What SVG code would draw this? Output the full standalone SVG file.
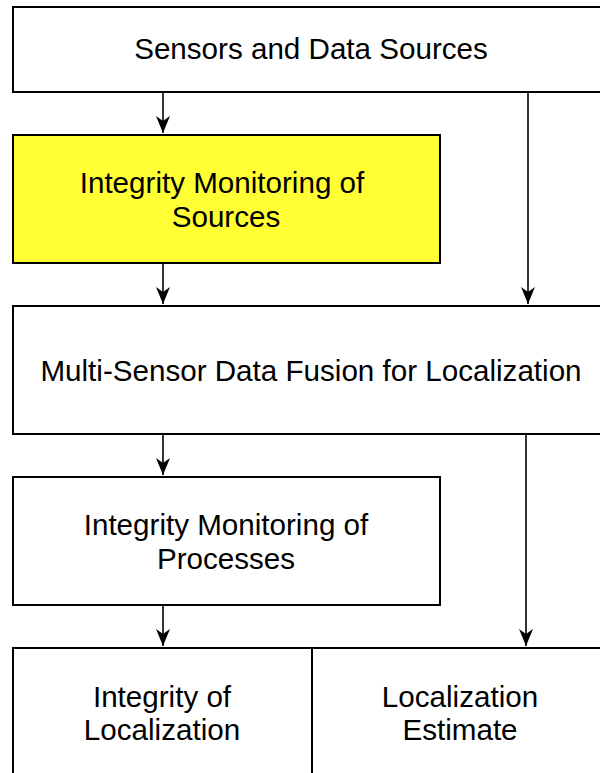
<svg xmlns="http://www.w3.org/2000/svg" width="600" height="773" viewBox="0 0 600 773">
  <style>
    .box { fill: #ffffff; stroke: #000000; stroke-width: 2; }
    .yellow { fill: #ffff33; }
    .lbl { font-family: "Liberation Sans", Arial, sans-serif; font-size: 29.6px; fill: #000000; text-anchor: middle; }
    .conn { stroke: #000000; stroke-width: 1.6; fill: none; }
  </style>
  <defs>
    <marker id="arr" markerUnits="userSpaceOnUse" viewBox="-18 -8 19 16" refX="0" refY="0" markerWidth="19" markerHeight="16" orient="auto">
      <path d="M0,0 L-17,-7 L-12,0 L-17,7 Z" fill="#000000"/>
    </marker>
  </defs>
  <rect width="600" height="773" fill="#ffffff"/>
  <g id="connectors">
    <path class="conn" d="M163,92 V133" marker-end="url(#arr)"/>
    <path class="conn" d="M528,92 V304" marker-end="url(#arr)"/>
    <path class="conn" d="M163,263 V304" marker-end="url(#arr)"/>
    <path class="conn" d="M163,434 V475" marker-end="url(#arr)"/>
    <path class="conn" d="M526,434 V646" marker-end="url(#arr)"/>
    <path class="conn" d="M163,605 V646" marker-end="url(#arr)"/>
  </g>
  <g id="sensors">
    <rect class="box" x="13" y="7" width="610" height="85"/>
    <text class="lbl" x="311" y="59">Sensors and Data Sources</text>
  </g>
  <g id="integrity-sources">
    <rect class="box yellow" x="13" y="135" width="427" height="128"/>
    <text class="lbl" x="222" y="193">Integrity Monitoring of</text>
    <text class="lbl" x="226" y="227">Sources</text>
  </g>
  <g id="fusion">
    <rect class="box" x="13" y="306" width="610" height="128"/>
    <text class="lbl" x="311" y="381">Multi-Sensor Data Fusion for Localization</text>
  </g>
  <g id="integrity-processes">
    <rect class="box" x="13" y="477" width="427" height="128"/>
    <text class="lbl" x="226" y="535">Integrity Monitoring of</text>
    <text class="lbl" x="226" y="569">Processes</text>
  </g>
  <g id="integrity-localization">
    <rect class="box" x="13" y="648" width="299" height="140"/>
    <text class="lbl" x="162" y="707">Integrity of</text>
    <text class="lbl" x="162" y="740">Localization</text>
  </g>
  <g id="localization-estimate">
    <rect class="box" x="312" y="648" width="300" height="140"/>
    <text class="lbl" x="460" y="707">Localization</text>
    <text class="lbl" x="460" y="740">Estimate</text>
  </g>
</svg>
